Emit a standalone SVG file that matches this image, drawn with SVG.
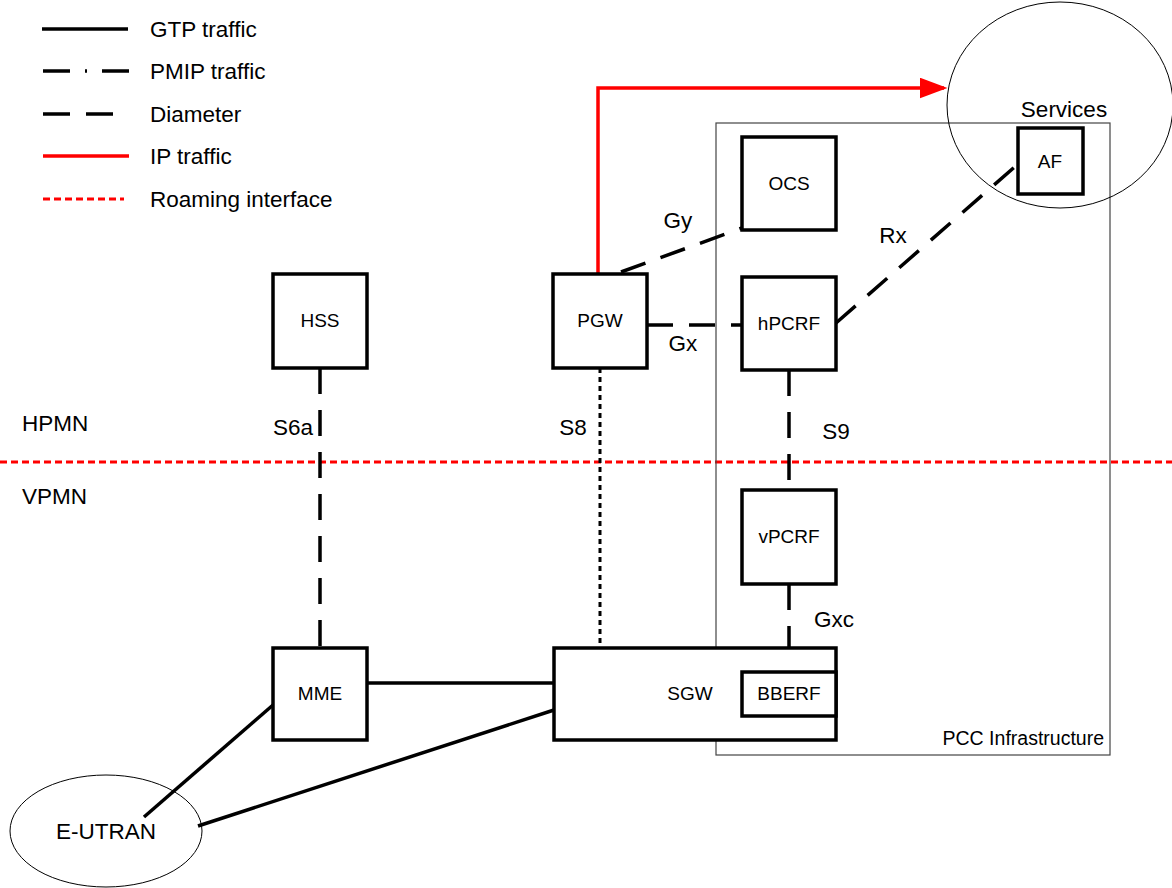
<svg xmlns="http://www.w3.org/2000/svg" width="1172" height="888" viewBox="0 0 1172 888">
<defs>
<style>
text{font-family:"Liberation Sans",Arial,sans-serif;fill:#000}
.lbl{font-size:22.5px}
.nt{font-size:19px;text-anchor:middle}
.box{fill:#fff;stroke:#000;stroke-width:3.5}
.gtp{stroke:#000;stroke-width:3.5;fill:none}
.dia{stroke:#000;stroke-width:3.5;fill:none;stroke-dasharray:26 16}
.pmip{stroke:#000;stroke-width:3.5;fill:none;stroke-dasharray:27 15 2 15}
.dot{stroke:#000;stroke-width:3;fill:none;stroke-dasharray:5 4}
.ip{stroke:#f00;stroke-width:3.5;fill:none}
.roam{stroke:#f00;stroke-width:3;fill:none;stroke-dasharray:7 4}
.thin{fill:none;stroke:#000;stroke-width:1}
</style>
<marker id="arr" markerWidth="8" markerHeight="6" refX="7" refY="3" orient="auto" markerUnits="strokeWidth">
<path d="M0,0 L8,3 L0,6 Z" fill="#f00"/>
</marker>
</defs>
<rect width="1172" height="888" fill="#fff"/>
<g id="legend">
<line class="gtp" x1="42" y1="29" x2="128" y2="29"/>
<line class="pmip" x1="43" y1="71" x2="129" y2="71"/>
<line class="dia" x1="43" y1="114" x2="113" y2="114" style="stroke-dasharray:27 16"/>
<line class="ip" x1="43" y1="156" x2="129" y2="156"/>
<line class="roam" x1="43" y1="199" x2="124" y2="199"/>
<text class="lbl" x="150" y="37">GTP traffic</text>
<text class="lbl" x="150" y="79">PMIP traffic</text>
<text class="lbl" x="150" y="122">Diameter</text>
<text class="lbl" x="150" y="164">IP traffic</text>
<text class="lbl" x="150" y="207">Roaming interface</text>
</g>
<g id="zones">
<line class="roam" x1="0" y1="462" x2="1172" y2="462"/>
<text class="lbl" x="22" y="431">HPMN</text>
<text class="lbl" x="22" y="504">VPMN</text>
</g>
<g id="pcc">
<rect x="716" y="123" width="394" height="632" fill="none" stroke="#444" stroke-width="1.2"/>
<text x="1104" y="745" font-size="19.5" text-anchor="end">PCC Infrastructure</text>
</g>
<g id="connectors">
<path class="ip" d="M598,274 V88 H944" marker-end="url(#arr)"/>
<line class="dia" x1="621" y1="272" x2="742" y2="228"/>
<line class="dia" x1="647" y1="325" x2="742" y2="325"/>
<line class="dia" x1="836" y1="323" x2="1018" y2="164"/>
<line class="dia" x1="789" y1="370" x2="789" y2="490"/>
<line class="dia" x1="789" y1="584" x2="789" y2="672"/>
<line class="dia" x1="320" y1="368" x2="320" y2="648"/>
<line class="dot" x1="600" y1="368" x2="600" y2="648"/>
<line class="gtp" x1="367" y1="683" x2="554" y2="683"/>
<line class="gtp" x1="273" y1="705" x2="144" y2="817"/>
<line class="gtp" x1="554" y1="710" x2="198" y2="826"/>
<text class="lbl" x="678" y="228" text-anchor="middle">Gy</text>
<text class="lbl" x="683" y="351" text-anchor="middle">Gx</text>
<text class="lbl" x="893" y="243" text-anchor="middle">Rx</text>
<text class="lbl" x="836" y="439" text-anchor="middle">S9</text>
<text class="lbl" x="834" y="627" text-anchor="middle">Gxc</text>
<text class="lbl" x="293" y="435" text-anchor="middle">S6a</text>
<text class="lbl" x="573" y="435" text-anchor="middle">S8</text>
</g>
<g id="services">
<ellipse class="thin" cx="1060" cy="105" rx="113" ry="103"/>
<text class="lbl" x="1064" y="117" text-anchor="middle">Services</text>
</g>
<g id="af">
<rect class="box" x="1018" y="128" width="65" height="66"/>
<text class="nt" x="1050" y="168">AF</text>
</g>
<g id="hss">
<rect class="box" x="273" y="274" width="94" height="94"/>
<text class="nt" x="320" y="327">HSS</text>
</g>
<g id="pgw">
<rect class="box" x="553" y="274" width="94" height="94"/>
<text class="nt" x="600" y="327">PGW</text>
</g>
<g id="ocs">
<rect class="box" x="742" y="137" width="94" height="93"/>
<text class="nt" x="789" y="190">OCS</text>
</g>
<g id="hpcrf">
<rect class="box" x="742" y="277" width="94" height="93"/>
<text class="nt" x="789" y="330">hPCRF</text>
</g>
<g id="vpcrf">
<rect class="box" x="742" y="490" width="94" height="94"/>
<text class="nt" x="789" y="543">vPCRF</text>
</g>
<g id="mme">
<rect class="box" x="273" y="648" width="94" height="92"/>
<text class="nt" x="320" y="700">MME</text>
</g>
<g id="sgw">
<rect class="box" x="554" y="648" width="282" height="92"/>
<text class="nt" x="690" y="700">SGW</text>
</g>
<g id="bberf">
<rect class="box" x="742" y="672" width="94" height="44"/>
<text class="nt" x="789" y="700">BBERF</text>
</g>
<g id="eutran">
<ellipse class="thin" cx="106" cy="831" rx="96" ry="56" fill="#fff"/>
<text class="lbl" x="106" y="839" text-anchor="middle">E-UTRAN</text>
</g>
</svg>
